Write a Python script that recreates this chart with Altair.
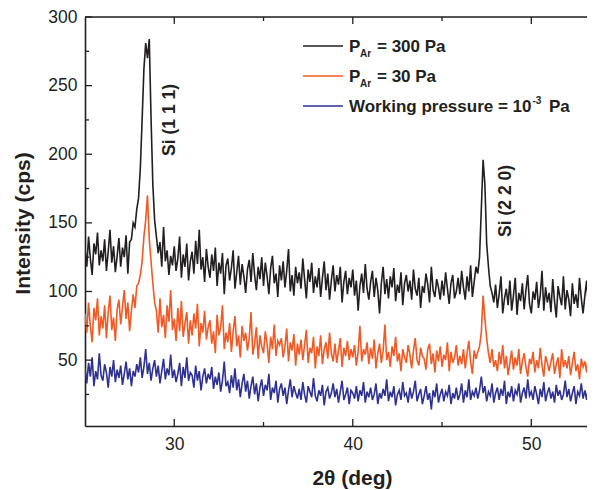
import altair as alt
import pandas as pd

# 2-theta grid (deg), 0.1 deg steps from 25.0 to 53.6
theta = [round(25.0 + 0.1 * i, 1) for i in range(287)]

# P_Ar = 300 Pa (cps)
black = [
    131, 118, 140, 124, 112, 135, 127, 143, 119, 130,
    122, 138, 115, 129, 145, 121, 133, 114, 126, 139,
    118, 132, 125, 141, 113, 136, 138, 150, 147, 160,
    168, 190, 225, 262, 281, 270, 284, 226, 178, 152,
    140, 128, 136, 118, 147, 122, 130, 112, 126, 119,
    133, 115, 124, 140, 110, 127, 118, 135, 108, 122,
    129, 113, 137, 120, 145, 116, 125, 107, 131, 118,
    110, 127, 115, 132, 104, 121, 113, 128, 98, 119,
    124, 108, 117, 130, 102, 114, 126, 105, 120, 111,
    99, 116, 123, 107, 128, 112, 101, 118, 109, 125,
    104, 121, 111, 98, 117, 126, 106, 113, 96, 119,
    108, 122, 103, 115, 131, 100, 112, 97, 118, 106,
    114, 102, 124, 109, 95, 116, 107, 121, 99, 111,
    103, 117, 96, 110, 122, 101, 113, 94, 108, 119,
    100, 112, 105, 118, 92, 107, 115, 98, 110, 103,
    116, 97, 108, 86, 104, 113, 99, 120, 102, 94,
    107, 115, 96, 110, 101, 84, 106, 118, 98, 109,
    95, 111, 103, 117, 93, 105, 99, 114, 90, 106,
    112, 100, 108, 94, 116, 102, 97, 110, 88, 104,
    99, 113, 105, 92, 118, 101, 96, 109, 103, 94,
    108, 97, 114, 102, 91, 106, 112, 95, 100, 110,
    98, 115, 103, 94, 111, 100, 119, 96, 107, 118,
    113, 125, 160, 196, 178, 135, 118, 104, 99, 92,
    105, 88, 98, 111, 84, 95, 102, 90, 108, 86,
    97, 110, 83, 99, 93, 106, 87, 101, 112, 91,
    84, 100, 94, 107, 88, 97, 115, 86, 103, 92,
    99, 85, 109, 93, 81, 104, 96, 90, 111, 87,
    101, 94, 82, 106, 91, 98, 88, 110, 95, 84,
    97, 108, 89, 93, 102, 86, 100,
]

# P_Ar = 30 Pa (cps)
orange = [
    84, 70, 92, 75, 63, 88, 79, 95, 68, 82,
    73, 90, 66, 85, 97, 72, 81, 64, 87, 94,
    76, 89, 101, 80, 92, 71, 86, 98, 88, 104,
    106, 112, 122, 140, 152, 170, 138, 122, 106, 92,
    86, 70, 95, 74, 83, 66, 90, 78, 101, 72,
    80, 64, 88, 71, 93, 67, 77, 85, 62, 79,
    68, 84, 73, 91, 60, 77, 70, 86, 65, 74,
    79, 62, 71, 55, 83, 68, 74, 90, 58, 70,
    63, 77, 56, 71, 82, 60, 68, 52, 75, 64,
    70, 57, 66, 85, 54, 62, 74, 51, 68, 60,
    55, 71, 62, 48, 67, 58, 76, 53, 64, 61,
    66, 52, 60, 73, 49, 63, 57, 69, 46, 62,
    54, 65, 50, 61, 72, 48, 59, 55, 67, 44,
    60, 53, 68, 47, 58, 63, 51, 70, 55, 49,
    62, 48, 57, 66, 45, 59, 53, 64, 50, 58,
    52, 61, 46, 56, 75, 49, 58, 54, 63, 47,
    59, 51, 65, 44, 55, 62, 48, 57, 76, 50,
    56, 45, 60, 53, 67, 49, 55, 42, 58, 52,
    48, 61, 54, 44, 57, 66, 50, 46, 59, 53,
    51, 43, 58, 62, 47, 55, 41, 57, 49, 60,
    45, 54, 50, 63, 42, 56, 48, 52, 61, 46,
    53, 47, 58, 44, 55, 64, 49, 40, 57, 51,
    56, 60, 70, 97, 80, 66, 55, 48, 58, 45,
    50, 42, 56, 47, 61, 44, 53, 39, 48, 57,
    43, 52, 46, 58, 40, 49, 55, 45, 38, 51,
    47, 56, 41, 50, 44, 59, 46, 38, 53, 48,
    42, 49, 55, 40, 47, 52, 37, 58, 45, 50,
    44, 53, 39, 48, 56, 42, 47, 36, 51, 45,
    49, 41, 54, 46, 38, 52, 44,
]

# Working pressure = 1e-3 Pa (cps)
blue = [
    44, 33, 48, 38, 52, 31, 42, 36, 55, 39,
    35, 47, 41, 30, 45, 38, 50, 34, 43, 37,
    46, 32, 40, 49, 36, 44, 31, 42, 38, 47,
    41, 52, 37, 45, 58, 40, 48, 35, 44, 50,
    38, 46, 33, 42, 51, 36, 44, 39, 54, 37,
    43, 34, 40, 48, 31, 45, 37, 52, 35, 41,
    39, 30, 46, 35, 42, 28, 38, 44, 33, 40,
    36, 45, 29, 38, 32, 41, 27, 35, 49, 31,
    34, 26, 39, 30, 44, 28, 36, 23, 33, 40,
    27, 35, 22, 31, 38, 25, 33, 20, 30, 36,
    24, 32, 28, 40, 21, 30, 26, 35, 19, 29,
    33, 24, 30, 18, 28, 36, 23, 31, 26, 22,
    29, 21, 34, 25, 19, 31, 27, 23, 37, 24,
    20, 28, 24, 32, 17, 27, 30, 22, 26, 33,
    23, 29, 19, 27, 35, 21, 25, 30, 18, 28,
    26, 22, 31, 20, 28, 24, 34, 19, 27, 23,
    30, 21, 25, 33, 18, 26, 22, 29, 24, 36,
    20, 27, 23, 31, 17, 25, 28, 21, 34, 24,
    26, 19, 30, 22, 27, 35, 20, 25, 29, 18,
    24, 31, 21, 26, 14, 28, 23, 33, 19, 25,
    29, 20, 27, 24, 32, 18, 26, 22, 30, 21,
    25, 33, 19, 28, 23, 36, 21, 27, 24, 30,
    22, 28, 38, 26, 31, 20, 27, 24, 33, 19,
    26, 30, 21, 29, 24, 35, 18, 27, 23, 31,
    20, 28, 25, 33, 19, 26, 30, 22, 36, 24,
    27, 21, 31, 25, 18, 29, 23, 34, 20, 26,
    30, 22, 27, 19, 32, 24, 28, 21, 25, 35,
    23, 29, 20, 26, 31, 18, 27, 24, 33, 22,
    28, 21, 30, 25, 19, 27, 23,
]

x_major = [30, 40, 50]
x_minor = [35, 45]
y_major = [50, 100, 150, 200, 250, 300]
y_minor = [25, 75, 125, 175, 225, 275]

peak_labels = ["Si (1 1 1)", "Si (2 2 0)"]
peak_x = [29.78, 48.6]
peak_y = [225, 166]

C_BLACK = "#231f20"
C_ORANGE = "#f15a24"
C_BLUE = "#2e3192"
FONT = "Liberation Sans"

W, H = 502, 409
XDOM = [25, 53.12]
YDOM = [2, 300]

xs = alt.Scale(domain=XDOM, nice=False, zero=False)
ys = alt.Scale(domain=YDOM, nice=False, zero=False)

df = pd.DataFrame({"theta": theta, "black": black, "orange": orange, "blue": blue})

x_axis = alt.Axis(values=x_major, tickSize=0, labelPadding=9, labelFontSize=17.5,
                  labelFont=FONT, labelColor=C_BLACK, grid=False, domainColor=C_BLACK,
                  domainWidth=1.6, title="2θ (deg)", titleFont=FONT, titleFontSize=21,
                  titleFontWeight="bold", titleColor=C_BLACK, titleX=267, titleY=58,
                  titleBaseline="alphabetic", titleAlign="center", format="d")
y_axis = alt.Axis(values=y_major, tickSize=0, labelPadding=8, labelFontSize=17.5,
                  labelFont=FONT, labelColor=C_BLACK, grid=False, domainColor=C_BLACK,
                  domainWidth=1.6, title="Intensity (cps)", titleFont=FONT, titleFontSize=21,
                  titleFontWeight="bold", titleColor=C_BLACK, titleX=-56, titleY=206,
                  titleAngle=270, titleBaseline="alphabetic", titleAlign="center", format="d")

XENC = lambda f: alt.X(f, scale=xs, axis=x_axis)
YENC = lambda f: alt.Y(f, scale=ys, axis=y_axis)

base = alt.Chart(df)

def series(col, color):
    return base.mark_line(color=color, strokeWidth=1.6, clip=True).encode(
        x=XENC("theta:Q"), y=YENC(f"{col}:Q"))

l_black = series("black", C_BLACK)
l_orange = series("orange", C_ORANGE)
l_blue = series("blue", C_BLUE)

one = pd.DataFrame({"a": [0]})

# frame top line
top_line = alt.Chart(one).mark_rule(color=C_BLACK, strokeWidth=1.6).encode(
    x=alt.value(0), x2=alt.value(W), y=alt.value(0))

# inward ticks
def xticks(vals, length):
    d = pd.DataFrame({"theta": vals})
    bot = alt.Chart(d).mark_rule(color=C_BLACK, strokeWidth=1.3).encode(
        x=XENC("theta:Q"), y=alt.value(H), y2=alt.value(H - length))
    top = alt.Chart(d).mark_rule(color=C_BLACK, strokeWidth=1.3).encode(
        x=XENC("theta:Q"), y=alt.value(0), y2=alt.value(length))
    return bot + top

def yticks(vals, length):
    d = pd.DataFrame({"black": vals})
    return alt.Chart(d).mark_rule(color=C_BLACK, strokeWidth=1.3).encode(
        y=YENC("black:Q"), x=alt.value(0), x2=alt.value(length))

ticks = xticks(x_major, 7) + xticks(x_minor, 4) + yticks(y_major, 7) + yticks(y_minor, 4)

# peak annotations
pk = alt.Chart(pd.DataFrame({"t": peak_labels, "theta": peak_x, "black": peak_y})).mark_text(
    angle=270, align="center", baseline="middle", font=FONT, fontSize=17.5,
    fontWeight="bold", color=C_BLACK).encode(
    x=XENC("theta:Q"), y=YENC("black:Q"), text="t:N")

# legend
leg_colors = [C_BLACK, C_ORANGE, C_BLUE]
leg_y = [29, 59, 89]
leg = []
for c, yy in zip(leg_colors, leg_y):
    leg.append(alt.Chart(one).mark_rule(color=c, strokeWidth=1.5).encode(
        x=alt.value(218), x2=alt.value(258), y=alt.value(yy)))

def txt(s, x, y, size):
    return alt.Chart(one).mark_text(text=s, align="left", baseline="alphabetic", font=FONT,
                                    fontSize=size, fontWeight="bold", color=C_BLACK).encode(
        x=alt.value(x), y=alt.value(y))

leg += [
    txt("P", 264, 35, 17), txt("Ar", 275, 40, 10), txt("= 300 Pa", 292, 35, 17),
    txt("P", 264, 65, 17), txt("Ar", 275, 70, 10), txt("= 30 Pa", 292, 65, 17),
    txt("Working pressure = 10", 264, 95, 17), txt("-3", 447.5, 87, 10), txt("Pa", 464, 95, 17),
]

chart = alt.layer(l_black, l_orange, l_blue, top_line, ticks, pk, *leg).properties(
    width=W, height=H,
    autosize=alt.AutoSizeParams(type="none"),
    padding={"left": 77, "top": 9, "right": 0, "bottom": 65},
).configure_view(stroke=None).configure(font=FONT, background="white")

chart.save("out.html", embed_options={"renderer": "svg", "actions": False})
